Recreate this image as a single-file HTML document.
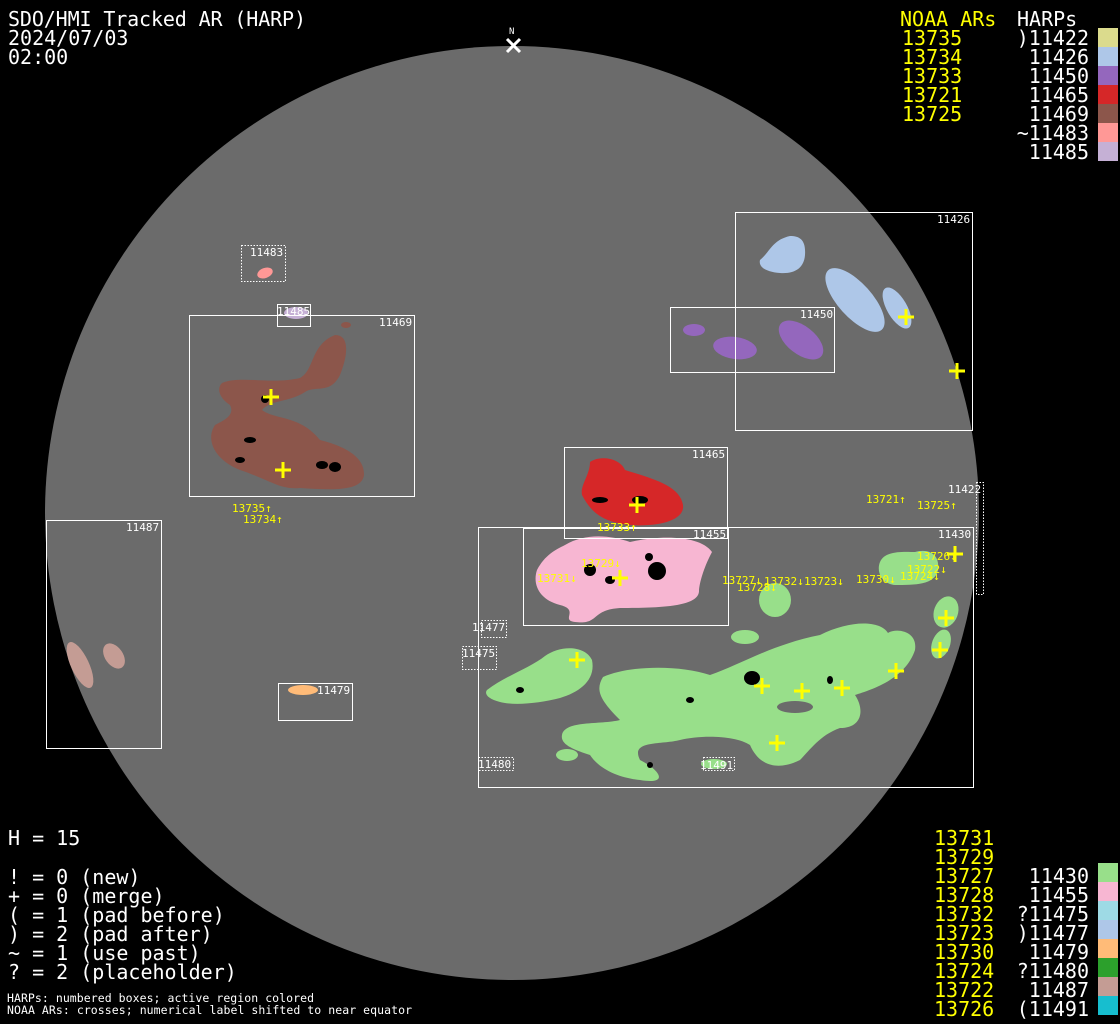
<!DOCTYPE html>
<html><head><meta charset="utf-8"><style>
html,body{margin:0;padding:0;background:#000;}
svg{display:block;}
text{font-family:"DejaVu Sans Mono","Liberation Mono",monospace;}
</style></head><body>
<svg width="1120" height="1024" viewBox="0 0 1120 1024" xmlns="http://www.w3.org/2000/svg">
<rect width="1120" height="1024" fill="#000"/>
<circle cx="512" cy="513" r="467" fill="#6b6b6b"/>

<g>
<path d="M760,260 C770,252 772,240 790,236 C800,236 806,240 805,255 C804,268 795,274 780,273 C768,272 758,268 760,260 Z" fill="#aec7e8"/>
<ellipse cx="855" cy="300" rx="40" ry="17" transform="rotate(48 855 300)" fill="#aec7e8"/>
<ellipse cx="897" cy="308" rx="23" ry="10" transform="rotate(60 897 308)" fill="#aec7e8"/>
<ellipse cx="694" cy="330" rx="11" ry="6" fill="#9467bd"/>
<ellipse cx="735" cy="348" rx="22" ry="11" transform="rotate(8 735 348)" fill="#9467bd"/>
<ellipse cx="801" cy="340" rx="26" ry="14" transform="rotate(38 801 340)" fill="#9467bd"/>
<path d="M222,383 C240,375 270,385 300,378 C315,370 310,345 335,335 C350,335 348,355 340,375 C330,395 315,385 305,392 C290,402 270,400 262,410 C275,420 300,415 320,440 C340,445 365,455 364,475 C362,492 330,490 300,488 C280,490 270,480 240,470 C215,460 205,440 215,425 C225,420 235,415 230,405 C222,400 215,390 222,383 Z" fill="#8c564b"/>
<ellipse cx="346" cy="325" rx="5" ry="3" fill="#8c564b"/>
<ellipse cx="265" cy="273" rx="8" ry="5" transform="rotate(-20 265 273)" fill="#ff9896"/>
<ellipse cx="296" cy="313" rx="12" ry="6" fill="#c5b0d5"/>
<path d="M590,462 C600,455 620,458 625,470 C650,478 680,485 683,505 C685,520 660,527 630,525 C600,522 590,510 582,495 C580,485 590,475 590,462 Z" fill="#d62728"/>
<path d="M565,545 C585,533 610,535 630,542 C660,535 700,535 712,552 C705,565 700,580 699,590 C700,605 670,608 620,608 C590,610 600,625 575,622 C560,620 580,610 560,605 C540,600 532,585 537,570 C545,555 555,550 565,545 Z" fill="#f7b6d2"/>
<path d="M487,690 C505,676 530,668 545,656 C560,645 585,645 592,660 C596,680 580,692 560,698 C540,703 515,706 500,702 C488,699 484,694 487,690 Z" fill="#98df8a"/>
<path d="M603,677 C630,665 680,665 710,675 C740,665 770,645 820,635 C850,620 880,620 888,633 C895,628 918,630 915,650 C905,680 870,690 855,695 C865,710 862,728 840,728 C820,735 810,750 800,760 C780,770 760,768 750,745 C735,735 700,735 680,740 C660,745 630,740 640,760 C660,770 670,785 640,780 C620,778 600,770 590,755 C575,750 560,745 562,735 C565,720 600,725 620,720 C600,700 595,690 603,677 Z" fill="#98df8a"/>
<ellipse cx="795" cy="707" rx="18" ry="6" fill="#6b6b6b"/>
<ellipse cx="775" cy="600" rx="16" ry="17" fill="#98df8a"/>
<ellipse cx="745" cy="637" rx="14" ry="7" fill="#98df8a"/>
<ellipse cx="567" cy="755" rx="11" ry="6" fill="#98df8a"/>
<ellipse cx="714" cy="764" rx="13" ry="5" fill="#98df8a"/>
<path d="M880,562 C885,550 905,552 915,552 C930,548 940,555 938,570 C935,585 915,585 895,585 C882,584 876,572 880,562 Z" fill="#98df8a"/>
<ellipse cx="946" cy="612" rx="12" ry="16" transform="rotate(20 946 612)" fill="#98df8a"/>
<ellipse cx="941" cy="644" rx="9" ry="15" transform="rotate(20 941 644)" fill="#98df8a"/>
<ellipse cx="303" cy="690" rx="15" ry="5" fill="#ffbb78"/>
<ellipse cx="80" cy="665" rx="9" ry="25" transform="rotate(-25 80 665)" fill="#c49c94"/>
<ellipse cx="114" cy="656" rx="9" ry="14" transform="rotate(-35 114 656)" fill="#c49c94"/>
</g>

<g fill="#000">
<ellipse cx="752" cy="678" rx="8" ry="7"/>
<ellipse cx="657" cy="571" rx="9" ry="9"/>
<ellipse cx="649" cy="557" rx="4" ry="4"/>
<ellipse cx="335" cy="467" rx="6" ry="5"/>
<ellipse cx="265" cy="399" rx="4" ry="4"/>
<ellipse cx="322" cy="465" rx="6" ry="4"/>
<ellipse cx="640" cy="500" rx="8" ry="4"/>
<ellipse cx="590" cy="570" rx="6" ry="6"/>
<ellipse cx="610" cy="580" rx="5" ry="4"/>
<ellipse cx="250" cy="440" rx="6" ry="3"/>
<ellipse cx="240" cy="460" rx="5" ry="3"/>
<ellipse cx="600" cy="500" rx="8" ry="3"/>
<ellipse cx="520" cy="690" rx="4" ry="3"/>
<ellipse cx="650" cy="765" rx="3" ry="3"/>
<ellipse cx="690" cy="700" rx="4" ry="3"/>
<ellipse cx="830" cy="680" rx="3" ry="4"/>
</g>

<g fill="none" stroke="#fff" stroke-width="1">
<rect x="735.5" y="212.5" width="237" height="218"/>
<rect x="670.5" y="307.5" width="164" height="65"/>
<rect x="189.5" y="315.5" width="225" height="181"/>
<rect x="277.5" y="304.5" width="33" height="22"/>
<rect x="564.5" y="447.5" width="163" height="91"/>
<rect x="523.5" y="528.5" width="205" height="97"/>
<rect x="478.5" y="527.5" width="495" height="260"/>
<rect x="46.5" y="520.5" width="115" height="228"/>
<rect x="278.5" y="683.5" width="74" height="37"/>
</g>
<g fill="none" stroke="#fff" stroke-width="1" stroke-dasharray="1.5,1.5">
<rect x="241.5" y="245.5" width="44" height="36"/>
<rect x="976.5" y="482.5" width="7" height="112"/>
<rect x="481.5" y="620.5" width="25" height="17"/>
<rect x="462.5" y="646.5" width="34" height="23"/>
<rect x="478.5" y="757.5" width="35" height="13"/>
<rect x="703.5" y="757.5" width="31" height="13"/>
</g>

<g fill="#fff" font-size="11">
<text x="937" y="223">11426</text>
<text x="800" y="318">11450</text>
<text x="379" y="326">11469</text>
<text x="250" y="256">11483</text>
<text x="277" y="315">11485</text>
<text x="692" y="458">11465</text>
<text x="693" y="538">11455</text>
<text x="938" y="538">11430</text>
<text x="948" y="493">11422</text>
<text x="126" y="531">11487</text>
<text x="317" y="694">11479</text>
<text x="472" y="631">11477</text>
<text x="462" y="657">11475</text>
<text x="478" y="768">11480</text>
<text x="700" y="769">11491</text>
</g>

<g fill="#ffff00" font-size="11">
<text x="232" y="512">13735↑</text>
<text x="243" y="523">13734↑</text>
<text x="597" y="531">13733↑</text>
<text x="866" y="503">13721↑</text>
<text x="917" y="509">13725↑</text>
<text x="581" y="567">13729↓</text>
<text x="537" y="582">13731↓</text>
<text x="722" y="584">13727↓</text>
<text x="737" y="591">13728↓</text>
<text x="764" y="585">13732↓</text>
<text x="804" y="585">13723↓</text>
<text x="856" y="583">13730↓</text>
<text x="900" y="580">13724↓</text>
<text x="907" y="573">13722↓</text>
<text x="917" y="560">13726↓</text>
</g>

<g stroke="#ffff00" stroke-width="3" fill="none">
<path d="M263,397h16M271,389v16"/>
<path d="M275,470h16M283,462v16"/>
<path d="M629,505h16M637,497v16"/>
<path d="M612,578h16M620,570v16"/>
<path d="M898,317h16M906,309v16"/>
<path d="M949,371h16M957,363v16"/>
<path d="M947,554h16M955,546v16"/>
<path d="M569,660h16M577,652v16"/>
<path d="M754,686h16M762,678v16"/>
<path d="M794,691h16M802,683v16"/>
<path d="M834,688h16M842,680v16"/>
<path d="M888,671h16M896,663v16"/>
<path d="M938,618h16M946,610v16"/>
<path d="M932,650h16M940,642v16"/>
<path d="M769,743h16M777,735v16"/>
</g>

<text x="509" y="34" fill="#fff" font-size="9">N</text>
<path d="M507,39l13,13M520,39l-13,13" stroke="#fff" stroke-width="3"/>

<g fill="#fff" font-size="20">
<text x="8" y="26" textLength="298">SDO/HMI Tracked AR (HARP)</text>
<text x="8" y="45">2024/07/03</text>
<text x="8" y="64">02:00</text>
</g>

<g font-size="20">
<text x="900" y="26" fill="#ffff00">NOAA ARs</text>
<text x="1017" y="26" fill="#fff">HARPs</text>
<g fill="#ffff00">
<text x="902" y="45">13735</text>
<text x="902" y="64">13734</text>
<text x="902" y="83">13733</text>
<text x="902" y="102">13721</text>
<text x="902" y="121">13725</text>
</g>
<g fill="#fff" text-anchor="end">
<text x="1089" y="45">)11422</text>
<text x="1089" y="64">11426</text>
<text x="1089" y="83">11450</text>
<text x="1089" y="102">11465</text>
<text x="1089" y="121">11469</text>
<text x="1089" y="140">~11483</text>
<text x="1089" y="159">11485</text>
</g>
</g>
<rect x="1098" y="28" width="20" height="19" fill="#dbdb8d"/>
<rect x="1098" y="47" width="20" height="19" fill="#aec7e8"/>
<rect x="1098" y="66" width="20" height="19" fill="#9467bd"/>
<rect x="1098" y="85" width="20" height="19" fill="#d62728"/>
<rect x="1098" y="104" width="20" height="19" fill="#8c564b"/>
<rect x="1098" y="123" width="20" height="19" fill="#ff9896"/>
<rect x="1098" y="142" width="20" height="19" fill="#c5b0d5"/>

<g fill="#fff" font-size="20">
<text x="8" y="845">H = 15</text>
<text x="8" y="884">! = 0 (new)</text>
<text x="8" y="903">+ = 0 (merge)</text>
<text x="8" y="922">( = 1 (pad before)</text>
<text x="8" y="941">) = 2 (pad after)</text>
<text x="8" y="960">~ = 1 (use past)</text>
<text x="8" y="979">? = 2 (placeholder)</text>
</g>
<g fill="#fff" font-size="11.5">
<text x="7" y="1002" textLength="307">HARPs: numbered boxes; active region colored</text>
<text x="7" y="1014" textLength="405">NOAA ARs: crosses; numerical label shifted to near equator</text>
</g>

<g font-size="20">
<g fill="#ffff00">
<text x="934" y="845">13731</text>
<text x="934" y="864">13729</text>
<text x="934" y="883">13727</text>
<text x="934" y="902">13728</text>
<text x="934" y="921">13732</text>
<text x="934" y="940">13723</text>
<text x="934" y="959">13730</text>
<text x="934" y="978">13724</text>
<text x="934" y="997">13722</text>
<text x="934" y="1016">13726</text>
</g>
<g fill="#fff" text-anchor="end">
<text x="1089" y="883">11430</text>
<text x="1089" y="902">11455</text>
<text x="1089" y="921">?11475</text>
<text x="1089" y="940">)11477</text>
<text x="1089" y="959">11479</text>
<text x="1089" y="978">?11480</text>
<text x="1089" y="997">11487</text>
<text x="1089" y="1016">(11491</text>
</g>
</g>
<rect x="1098" y="863" width="20" height="19" fill="#98df8a"/>
<rect x="1098" y="882" width="20" height="19" fill="#f7b6d2"/>
<rect x="1098" y="901" width="20" height="19" fill="#9edae5"/>
<rect x="1098" y="920" width="20" height="19" fill="#aec7e8"/>
<rect x="1098" y="939" width="20" height="19" fill="#ffbb78"/>
<rect x="1098" y="958" width="20" height="19" fill="#2ca02c"/>
<rect x="1098" y="977" width="20" height="19" fill="#c49c94"/>
<rect x="1098" y="996" width="20" height="19" fill="#17becf"/>
</svg>
</body></html>
